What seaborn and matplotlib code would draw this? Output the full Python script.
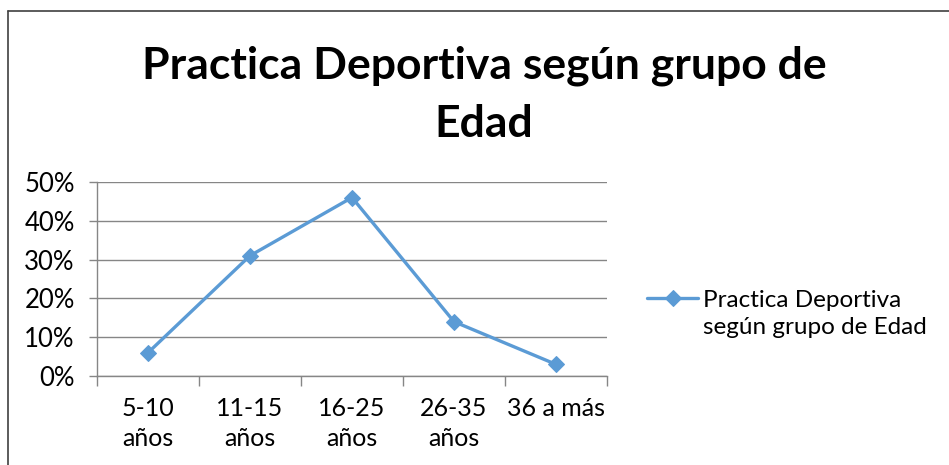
import matplotlib
matplotlib.use("Agg")
import matplotlib.pyplot as plt
import matplotlib.lines as mlines
import seaborn as sns
import pandas as pd
import numpy as np

categories = ["5-10\naños", "11-15\naños", "16-25\naños", "26-35\naños", "36 a más"]
values = [6, 31, 46, 14, 3]
yticks = [0, 10, 20, 30, 40, 50]
series_name = "Practica Deportiva\nsegún grupo de Edad"
title = "Practica Deportiva según grupo de\nEdad"

sns.set_theme(style="white")
plt.rcParams['font.family'] = ['Lato', 'DejaVu Sans']
plt.rcParams['text.color'] = 'black'

df = pd.DataFrame({"x": np.arange(len(categories)), "y": values})

fig = plt.figure(figsize=(9.49, 4.65), dpi=100)
ax = fig.add_axes([97/949, 1-376/465, (607-97)/949, (376-182)/465])

color = "#5B9BD5"
sns.lineplot(data=df, x="x", y="y", ax=ax, color=color, linewidth=2.4,
             marker="D", markersize=8, markeredgecolor=color, label=series_name)

ax.set_xlim(-0.5, len(categories) - 0.5)
ax.set_ylim(0, 50)
ax.set_yticks(yticks)
ax.set_yticklabels([f"{v}%" for v in yticks], fontsize=18.5)
ax.set_xticks(np.arange(len(categories)))
ax.set_xticklabels(categories, fontsize=18, linespacing=1.38)
ax.set_xticks(np.arange(len(categories) + 1) - 0.5, minor=True)
ax.tick_params(axis="x", which="major", length=0, pad=15)
ax.tick_params(axis="x", which="minor", length=7, color="#868686", width=1, direction="out", bottom=True)
ax.tick_params(axis="y", which="major", length=6, color="#868686", width=1, direction="out", left=True, pad=10)
ax.set_xlabel("")
ax.set_ylabel("")

ax.grid(axis="y", color="#868686", linewidth=1)
ax.grid(axis="x", visible=False)
for s in ["top", "right"]:
    ax.spines[s].set_visible(False)
for s in ["left", "bottom"]:
    ax.spines[s].set_color("#868686")
    ax.spines[s].set_linewidth(1)
ax.set_axisbelow(True)

for lab in ax.get_xticklabels() + ax.get_yticklabels():
    lab.set_color("#000000")

leg = ax.legend(loc="center left", bbox_to_anchor=(647/949, 1-314/465),
                bbox_transform=fig.transFigure, frameon=False, fontsize=17.5,
                handlelength=2.1, handletextpad=0.2, borderaxespad=0, borderpad=0,
                labelspacing=0)
for t in leg.get_texts():
    t.set_color("black")
    t.set_linespacing(1.3)
# align the legend key with the first text line
for ln in leg.get_lines():
    ln.set_ydata(np.asarray(ln.get_ydata(), dtype=float) + 11.5)

fig.text(484/949, 1-95/465, title, ha="center", va="center", fontsize=32,
         fontweight="bold", linespacing=1.55, color="black")

# chart border (top and left visible)
fig.add_artist(mlines.Line2D([8/949, 1], [1-11/465, 1-11/465], transform=fig.transFigure,
                             color="#404040", linewidth=1.2))
fig.add_artist(mlines.Line2D([8/949, 8/949], [0, 1-11/465], transform=fig.transFigure,
                             color="#404040", linewidth=1.2))

fig.savefig("out.png", dpi=100)
